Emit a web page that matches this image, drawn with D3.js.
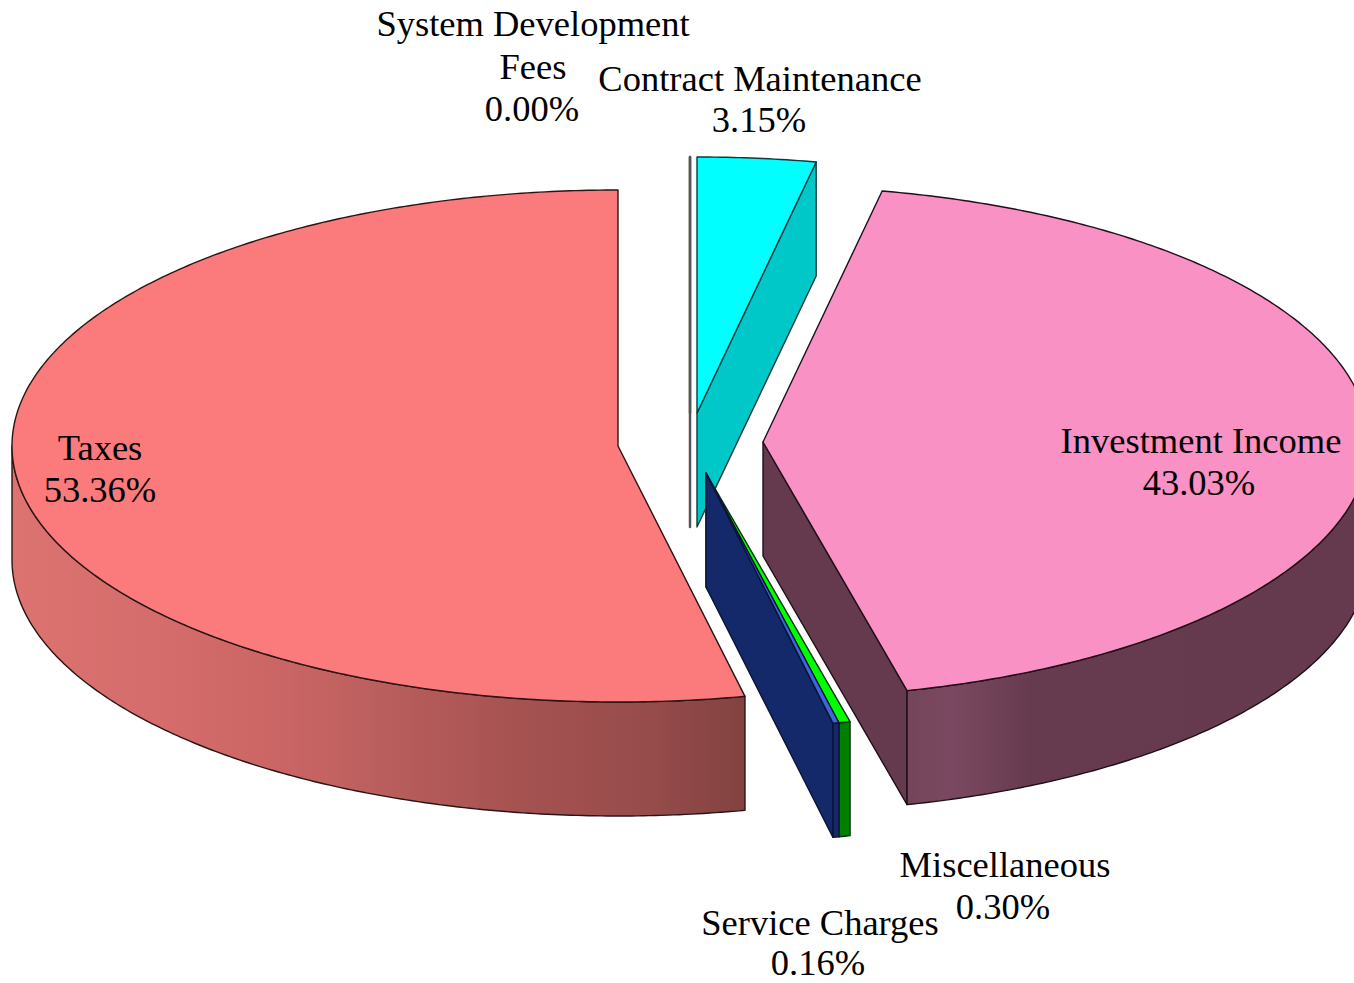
<!DOCTYPE html>
<html>
<head>
<meta charset="utf-8">
<script src="https://cdn.jsdelivr.net/npm/d3@7"></script>
<style>
  body { margin: 0; background: #fff; }
  svg { display: block; }
  text { font-family: "Liberation Serif", serif; font-size: 36.5px; fill: #000; text-anchor: middle; }
</style>
</head>
<body>
<svg id="chart" width="1354" height="983"></svg>
<script>
// pie order runs counter-clockwise from the top
const categories = [
  'Taxes',
  'Service Charges',
  'Miscellaneous',
  'Investment Income',
  'Contract Maintenance',
  'System Development Fees',
];
const shares = [53.36, 0.16, 0.3, 43.03, 3.15, 0.0];

const labelLines = [
  ['Taxes'],
  ['Service Charges'],
  ['Miscellaneous'],
  ['Investment Income'],
  ['Contract Maintenance'],
  ['System Development', 'Fees'],
];

// exploded position of each slice's apex
const apexes = [
  [618, 446],
  [706, 473],
  [706, 473],
  [763, 442],
  [697, 413],
  [690, 413],
];
const labelPos = [
  [100, 460],
  [820, 935],
  [1005, 877],
  [1201, 453],
  [760, 91],
  [533, 36],
];
const valuePos = [
  [100, 502],
  [818, 975],
  [1003, 919],
  [1199, 495],
  [759, 132],
  [532, 121],
];

const topColors = ['#fb7a7b', '#3c66dc', '#00ff00', '#f991c4', '#00ffff', '#ffffff'];
const cutColors = ['none', '#14296a', '#008000', '#663a4e', '#00c8c8', '#ffffff'];
const strokeColors = ['#2b1414', '#0a1438', '#06300a', '#1e0f18', '#12383a', '#555555'];

const taxesWall = [
  [12, '#dc7371'],
  [150, '#d56d6c'],
  [290, '#c96564'],
  [400, '#b75d5c'],
  [520, '#a55251'],
  [650, '#964c4b'],
  [745, '#824240'],
];
const investmentWall = [
  [907, '#74455a'],
  [950, '#7a4961'],
  [1030, '#673b4f'],
  [1354, '#663a4e'],
];

const rx = 606;
const ry = 256;
const depth = 114;

const svg = d3.select('#chart');
const defs = svg.append('defs');

function addGradient(id, stops) {
  const x = d3.scaleLinear().domain(d3.extent(stops, (d) => d[0])).range([0, 1]);
  const grad = defs
    .append('linearGradient')
    .attr('id', id)
    .attr('gradientUnits', 'userSpaceOnUse')
    .attr('x1', stops[0][0])
    .attr('x2', stops[stops.length - 1][0])
    .attr('y1', 0)
    .attr('y2', 0);
  grad
    .selectAll('stop')
    .data(stops)
    .join('stop')
    .attr('offset', (d) => x(d[0]))
    .attr('stop-color', (d) => d[1]);
}
addGradient('taxes-wall', taxesWall);
addGradient('investment-wall', investmentWall);

const wallFills = ['url(#taxes-wall)', '#14296a', '#008000', 'url(#investment-wall)', 'none', 'none'];

const pie = d3
  .pie()
  .sort(null)
  .startAngle(0)
  .endAngle(-2 * Math.PI);
const arcs = pie(shares);

const line = d3.line();

// points along the rim between two pie angles, on the ellipse around the apex
function rim(apex, a0, a1, drop = 0) {
  const steps = Math.max(1, Math.ceil(Math.abs(a1 - a0) / 0.01));
  const angle = d3.scaleLinear().domain([0, steps]).range([a0, a1]);
  return d3.range(steps + 1).map((i) => {
    const a = angle(i);
    return [apex[0] + rx * Math.sin(a), apex[1] - ry * Math.cos(a) + drop];
  });
}

function drawSlice(i) {
  const d = arcs[i];
  const apex = apexes[i];
  const g = svg
    .append('g')
    .attr('stroke', strokeColors[i])
    .attr('stroke-width', i === 5 ? 2.5 : 1.4)
    .attr('stroke-linejoin', 'round');

  // cut face, only faces the viewer on the right half
  if (d.startAngle < -Math.PI) {
    const p = rim(apex, d.startAngle, d.startAngle)[0];
    g.append('path')
      .attr('d', line([apex, p, [p[0], p[1] + depth], [apex[0], apex[1] + depth]]) + 'Z')
      .attr('fill', cutColors[i]);
  }

  // outer wall, only the front half of the rim shows
  const a0 = Math.max(d.startAngle, -1.5 * Math.PI);
  const a1 = Math.min(d.endAngle, -0.5 * Math.PI);
  if (wallFills[i] !== 'none' && a0 > a1 && d.endAngle !== d.startAngle) {
    const front = rim(apex, Math.min(a0, -0.5 * Math.PI), Math.max(a1, -1.5 * Math.PI));
    const back = rim(apex, Math.max(a1, -1.5 * Math.PI), Math.min(a0, -0.5 * Math.PI), depth);
    g.append('path')
      .attr('d', line(front.concat(back)) + 'Z')
      .attr('fill', wallFills[i]);
  }

  g.append('path')
    .attr('d', line([apex].concat(rim(apex, d.startAngle, d.endAngle))) + 'Z')
    .attr('fill', topColors[i]);
}

// back to front
[5, 4, 3, 2, 1, 0].forEach(drawSlice);

const labels = svg.append('g');
categories.forEach((name, i) => {
  labelLines[i].forEach((txt, j) => {
    labels
      .append('text')
      .attr('x', labelPos[i][0])
      .attr('y', labelPos[i][1] + j * 43)
      .text(txt);
  });
  labels
    .append('text')
    .attr('x', valuePos[i][0])
    .attr('y', valuePos[i][1])
    .text(`${shares[i].toFixed(2)}%`);
});
</script>
</body>
</html>
